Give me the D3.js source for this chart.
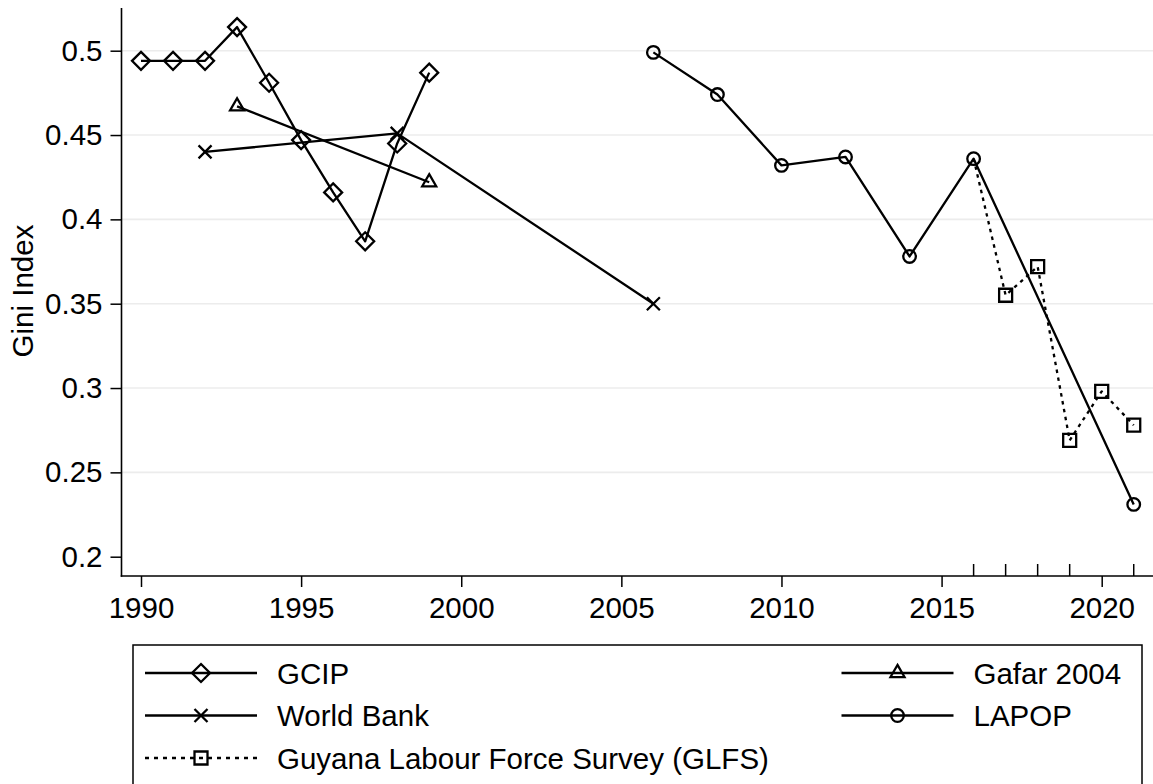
<!DOCTYPE html>
<html>
<head>
<meta charset="utf-8">
<script src="https://cdn.jsdelivr.net/npm/d3@7"></script>
<style>
  html, body { margin: 0; padding: 0; background: #fff; }
  svg { display: block; }
  text { font-family: "Liberation Sans", Arial, Helvetica, sans-serif; fill: #000; }
</style>
</head>
<body>
<svg id="chart" width="1153" height="784"></svg>
<script>
// Gini index series by source
const gcipYears   = [1990, 1991, 1992, 1993, 1994, 1995, 1996, 1997, 1998, 1999];
const gcipValues  = [0.494, 0.494, 0.494, 0.514, 0.481, 0.447, 0.416, 0.387, 0.445, 0.487];

const gafarYears  = [1993, 1999];
const gafarValues = [0.467, 0.422];

const wbYears     = [1992, 1998, 2006];
const wbValues    = [0.440, 0.451, 0.350];

const lapopYears  = [2006, 2008, 2010, 2012, 2014, 2016, 2021];
const lapopValues = [0.499, 0.474, 0.432, 0.437, 0.378, 0.436, 0.231];

// GLFS line is joined to the LAPOP 2016 observation
const glfsAnchorYear = 2016;
const glfsYears   = [2017, 2018, 2019, 2020, 2021];
const glfsValues  = [0.355, 0.372, 0.269, 0.298, 0.278];

// Axis ticks
const xTicks      = [1990, 1995, 2000, 2005, 2010, 2015, 2020];
const xMinorTicks = [2016, 2017, 2018, 2019, 2021];
const yTicks      = [0.2, 0.25, 0.3, 0.35, 0.4, 0.45, 0.5];
const yGrid       = [0.25, 0.3, 0.35, 0.4, 0.45, 0.5];
const yTickLabels = ["0.2", "0.25", "0.3", "0.35", "0.4", "0.45", "0.5"];

const svg = d3.select("#chart");
const FS = 29.5;
const SW = 2.3;

const plot = { left: 121.5, right: 1153, top: 8, bottom: 576 };
const x = d3.scaleLinear().domain([1990, 2020]).range([141, 1101.7]);
const y = d3.scaleLinear().domain([0.2, 0.5]).range([556.7, 50.7]);

const zip = (xs, ys) => xs.map((d, i) => ({ year: d, value: ys[i] }));

// Grid lines
svg.append("g").selectAll("line").data(yGrid).join("line")
  .attr("x1", plot.left).attr("x2", plot.right)
  .attr("y1", d => y(d)).attr("y2", d => y(d))
  .attr("stroke", "#ececec").attr("stroke-width", 1.6);

// Y axis
const yAxis = svg.append("g").attr("transform", `translate(${plot.left},0)`)
  .call(d3.axisLeft(y).tickValues(yTicks).tickSize(11).tickPadding(8)
    .tickFormat((d, i) => yTickLabels[i]));
yAxis.select(".domain").remove();
yAxis.selectAll(".tick line").attr("stroke", "#000").attr("stroke-width", 1.5);
yAxis.selectAll("text").attr("font-size", FS).style("font-family", null);
svg.append("line").attr("x1", plot.left).attr("x2", plot.left)
  .attr("y1", plot.top).attr("y2", plot.bottom + 0.8)
  .attr("stroke", "#000").attr("stroke-width", 1.6);

// X axis
const xAxis = svg.append("g").attr("transform", `translate(0,${plot.bottom})`)
  .call(d3.axisBottom(x).tickValues(xTicks).tickSize(11).tickPadding(10)
    .tickFormat(d3.format("d")));
xAxis.select(".domain").remove();
xAxis.selectAll(".tick line").attr("stroke", "#000").attr("stroke-width", 1.5);
xAxis.selectAll("text").attr("font-size", FS).style("font-family", null);
svg.append("line").attr("x1", plot.left - 0.8).attr("x2", plot.right)
  .attr("y1", plot.bottom).attr("y2", plot.bottom)
  .attr("stroke", "#000").attr("stroke-width", 1.6);

// Inward minor ticks marking survey years
svg.append("g").selectAll("line").data(xMinorTicks).join("line")
  .attr("x1", d => x(d)).attr("x2", d => x(d))
  .attr("y1", plot.bottom).attr("y2", plot.bottom - 12)
  .attr("stroke", "#000").attr("stroke-width", 1.5);

// Y axis title
svg.append("text")
  .attr("transform", "translate(33,291) rotate(-90)")
  .attr("text-anchor", "middle")
  .attr("font-size", FS)
  .text("Gini Index");

// Marker symbols (outline variants)
const symbols = {
  diamond:  { type: d3.symbolDiamond2, size: 206 },
  triangle: { type: d3.symbolTriangle2, size: 140 },
  cross:    { type: d3.symbolX, size: 112 },
  circle:   { type: d3.symbolCircle, size: Math.PI * 6.3 * 6.3 },
  square:   { type: d3.symbolSquare2, size: 215 }
};
function markerPath(name) {
  const s = symbols[name];
  return d3.symbol().type(s.type).size(s.size)();
}

const line = d3.line().x(d => x(d.year)).y(d => y(d.value));

function drawSeries(points, marker, dash, linePoints) {
  const g = svg.append("g");
  g.append("path").datum(linePoints || points)
    .attr("d", line).attr("fill", "none")
    .attr("stroke", "#000").attr("stroke-width", SW)
    .attr("stroke-dasharray", dash || null)
    .attr("stroke-linejoin", "round");
  g.selectAll("path.m").data(points).join("path").attr("class", "m")
    .attr("d", markerPath(marker))
    .attr("transform", d => `translate(${x(d.year)},${y(d.value)})`)
    .attr("fill", "none").attr("stroke", "#000").attr("stroke-width", SW);
}

const lapopPts = zip(lapopYears, lapopValues);
const glfsPts = zip(glfsYears, glfsValues);
const anchor = lapopPts.find(d => d.year === glfsAnchorYear);

drawSeries(zip(gcipYears, gcipValues), "diamond");
drawSeries(zip(gafarYears, gafarValues), "triangle");
drawSeries(zip(wbYears, wbValues), "cross");
drawSeries(glfsPts, "square", "3.5,4.5", [anchor].concat(glfsPts));
drawSeries(lapopPts, "circle");

// Legend
const legend = svg.append("g");
legend.append("rect")
  .attr("x", 133).attr("y", 645).attr("width", 1009).attr("height", 160)
  .attr("fill", "#fff").attr("stroke", "#000").attr("stroke-width", 1.5);

const legendItems = [
  { label: "GCIP", marker: "diamond", dash: null, col: 0, row: 0 },
  { label: "Gafar 2004", marker: "triangle", dash: null, col: 1, row: 0 },
  { label: "World Bank", marker: "cross", dash: null, col: 0, row: 1 },
  { label: "LAPOP", marker: "circle", dash: null, col: 1, row: 1 },
  { label: "Guyana Labour Force Survey (GLFS)", marker: "square", dash: "4,5", col: 0, row: 2 }
];
const colX = [145, 841.5];
const rowY = [673, 715.5, 758];

legendItems.forEach(it => {
  const x0 = colX[it.col], yy = rowY[it.row];
  const g = legend.append("g");
  g.append("line").attr("x1", x0).attr("x2", x0 + 112)
    .attr("y1", yy).attr("y2", yy)
    .attr("stroke", "#000").attr("stroke-width", SW)
    .attr("stroke-dasharray", it.dash);
  g.append("path").attr("d", markerPath(it.marker))
    .attr("transform", `translate(${x0 + 56},${yy})`)
    .attr("fill", "none").attr("stroke", "#000").attr("stroke-width", SW);
  g.append("text").attr("x", x0 + 132).attr("y", yy)
    .attr("dy", "0.36em").attr("font-size", FS).text(it.label);
});
</script>
</body>
</html>
